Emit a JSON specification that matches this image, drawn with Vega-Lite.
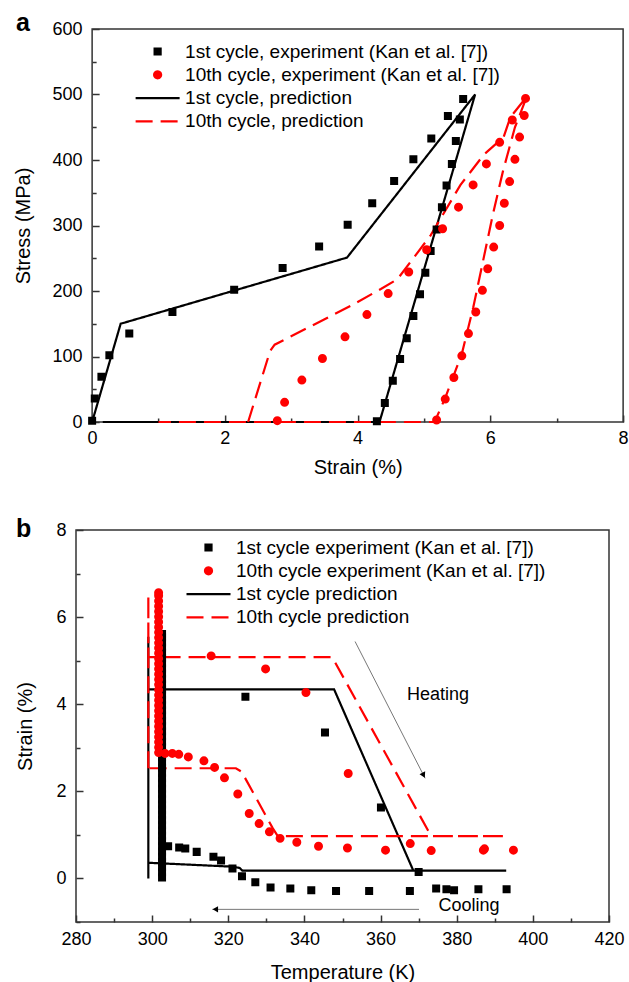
{
  "$schema": "https://vega.github.io/schema/vega-lite/v6.json",
  "padding": {"left": 12, "top": 10, "right": 0, "bottom": 0},
  "spacing": 38,
  "center": true,
  "resolve": {"scale": {"color": "independent", "shape": "independent", "strokeDash": "independent"}, "legend": {"color": "independent", "shape": "independent", "strokeDash": "independent"}},
  "config": {
    "font": "Liberation Sans",
    "view": {"stroke": "#333", "strokeWidth": 1.5},
    "axis": {"labelFont": "Liberation Sans", "titleFont": "Liberation Sans", "labelFontSize": 18, "titleFontSize": 20, "titleFontWeight": "normal", "labelColor": "#000", "titleColor": "#000", "domain": false, "tickColor": "#333", "tickWidth": 1.5, "grid": false, "labelFlush": false, "labelOverlap": false}
  },
  "datasets": {
    "a": [
      {"k":"e1","x":0.0,"y":2},{"k":"e1","x":0.04,"y":36},{"k":"e1","x":0.14,"y":69},{"k":"e1","x":0.26,"y":102},{"k":"e1","x":0.56,"y":135},{"k":"e1","x":1.21,"y":168},{"k":"e1","x":2.14,"y":202},{"k":"e1","x":2.87,"y":235},{"k":"e1","x":3.42,"y":268},{"k":"e1","x":3.85,"y":301},{"k":"e1","x":4.22,"y":334},{"k":"e1","x":4.55,"y":368},{"k":"e1","x":4.84,"y":401},{"k":"e1","x":5.11,"y":433},{"k":"e1","x":5.36,"y":467},{"k":"e1","x":5.59,"y":493},{"k":"e1","x":5.54,"y":462},{"k":"e1","x":5.48,"y":429},{"k":"e1","x":5.42,"y":394},{"k":"e1","x":5.34,"y":361},{"k":"e1","x":5.27,"y":328},{"k":"e1","x":5.19,"y":294},{"k":"e1","x":5.10,"y":261},{"k":"e1","x":5.02,"y":228},{"k":"e1","x":4.94,"y":195},{"k":"e1","x":4.84,"y":162},{"k":"e1","x":4.74,"y":128},{"k":"e1","x":4.64,"y":96},{"k":"e1","x":4.53,"y":63},{"k":"e1","x":4.41,"y":29},{"k":"e1","x":4.29,"y":1},
      {"k":"e10","x":2.79,"y":2},{"k":"e10","x":2.90,"y":30},{"k":"e10","x":3.16,"y":64},{"k":"e10","x":3.47,"y":97},{"k":"e10","x":3.81,"y":130},{"k":"e10","x":4.14,"y":164},{"k":"e10","x":4.46,"y":196},{"k":"e10","x":4.77,"y":229},{"k":"e10","x":5.04,"y":263},{"k":"e10","x":5.28,"y":295},{"k":"e10","x":5.52,"y":328},{"k":"e10","x":5.74,"y":362},{"k":"e10","x":5.94,"y":394},{"k":"e10","x":6.14,"y":427},{"k":"e10","x":6.33,"y":461},{"k":"e10","x":6.53,"y":494},{"k":"e10","x":6.51,"y":468},{"k":"e10","x":6.44,"y":435},{"k":"e10","x":6.37,"y":401},{"k":"e10","x":6.29,"y":367},{"k":"e10","x":6.21,"y":334},{"k":"e10","x":6.14,"y":300},{"k":"e10","x":6.05,"y":267},{"k":"e10","x":5.96,"y":234},{"k":"e10","x":5.88,"y":201},{"k":"e10","x":5.78,"y":168},{"k":"e10","x":5.67,"y":135},{"k":"e10","x":5.57,"y":101},{"k":"e10","x":5.45,"y":68},{"k":"e10","x":5.32,"y":35},{"k":"e10","x":5.19,"y":3},
      {"k":"p1","o":1,"x":0,"y":0},{"k":"p1","o":2,"x":0.43,"y":150},{"k":"p1","o":3,"x":3.84,"y":251},{"k":"p1","o":4,"x":5.77,"y":500},{"k":"p1","o":5,"x":4.33,"y":0},{"k":"p1","o":6,"x":0.16,"y":0},
      {"k":"p10","o":1,"x":2.35,"y":0},{"k":"p10","o":2,"x":2.68,"y":108},{"k":"p10","o":3,"x":2.75,"y":118},{"k":"p10","o":4,"x":3.89,"y":177},{"k":"p10","o":5,"x":4.35,"y":203},{"k":"p10","o":6,"x":4.6,"y":218},{"k":"p10","o":7,"x":5.1,"y":285},{"k":"p10","o":8,"x":5.55,"y":362},{"k":"p10","o":9,"x":5.9,"y":408},{"k":"p10","o":10,"x":6.2,"y":435},{"k":"p10","o":11,"x":6.3,"y":465},{"k":"p10","o":12,"x":6.55,"y":497},{"k":"p10","o":13,"x":6.37,"y":450},{"k":"p10","o":14,"x":6.19,"y":383},{"k":"p10","o":15,"x":6.04,"y":318},{"k":"p10","o":16,"x":5.89,"y":246},{"k":"p10","o":17,"x":5.74,"y":174},{"k":"p10","o":18,"x":5.57,"y":104},{"k":"p10","o":19,"x":5.32,"y":37},{"k":"p10","o":20,"x":5.16,"y":0},{"k":"p10","o":21,"x":1.0,"y":0}
    ],
    "b": [
      {"k":"e1","x":324.5,"y":4.17},{"k":"e1","x":345.4,"y":3.35},{"k":"e1","x":360.1,"y":1.63},{"k":"e1","x":370.0,"y":0.15},{"k":"e1","x":374.6,"y":-0.23},{"k":"e1","x":377.3,"y":-0.25},{"k":"e1","x":379.3,"y":-0.27},{"k":"e1","x":385.7,"y":-0.25},{"k":"e1","x":393.1,"y":-0.25},
      {"k":"e1","x":367.7,"y":-0.29},{"k":"e1","x":357.0,"y":-0.29},{"k":"e1","x":348.3,"y":-0.29},{"k":"e1","x":341.8,"y":-0.27},{"k":"e1","x":336.3,"y":-0.23},{"k":"e1","x":331.1,"y":-0.21},{"k":"e1","x":327.1,"y":-0.09},{"k":"e1","x":323.6,"y":0.05},{"k":"e1","x":321.1,"y":0.23},{"k":"e1","x":318.1,"y":0.41},{"k":"e1","x":316.1,"y":0.5},{"k":"e1","x":311.7,"y":0.61},{"k":"e1","x":308.7,"y":0.69},{"k":"e1","x":307.1,"y":0.71},{"k":"e1","x":304.2,"y":0.74},
      {"k":"e1","x":302.6,"y":0.02},{"k":"e1","x":302.6,"y":0.14},{"k":"e1","x":302.6,"y":0.26},{"k":"e1","x":302.6,"y":0.38},{"k":"e1","x":302.6,"y":0.5},{"k":"e1","x":302.6,"y":0.62},{"k":"e1","x":302.6,"y":0.74},{"k":"e1","x":302.6,"y":0.86},{"k":"e1","x":302.6,"y":0.98},{"k":"e1","x":302.6,"y":1.1},{"k":"e1","x":302.6,"y":1.22},{"k":"e1","x":302.6,"y":1.34},{"k":"e1","x":302.6,"y":1.46},{"k":"e1","x":302.6,"y":1.58},{"k":"e1","x":302.6,"y":1.7},{"k":"e1","x":302.6,"y":1.82},{"k":"e1","x":302.6,"y":1.94},{"k":"e1","x":302.6,"y":2.06},{"k":"e1","x":302.6,"y":2.18},{"k":"e1","x":302.6,"y":2.3},{"k":"e1","x":302.6,"y":2.42},{"k":"e1","x":302.6,"y":2.54},{"k":"e1","x":302.6,"y":2.66},{"k":"e1","x":302.6,"y":2.78},{"k":"e1","x":302.6,"y":2.9},{"k":"e1","x":302.6,"y":3.02},{"k":"e1","x":302.6,"y":3.14},{"k":"e1","x":302.6,"y":3.26},{"k":"e1","x":302.6,"y":3.38},{"k":"e1","x":302.6,"y":3.5},{"k":"e1","x":302.6,"y":3.62},{"k":"e1","x":302.6,"y":3.74},{"k":"e1","x":302.6,"y":3.86},{"k":"e1","x":302.6,"y":3.98},{"k":"e1","x":302.6,"y":4.1},{"k":"e1","x":302.6,"y":4.22},{"k":"e1","x":302.6,"y":4.34},{"k":"e1","x":302.6,"y":4.46},{"k":"e1","x":302.6,"y":4.58},{"k":"e1","x":302.6,"y":4.7},{"k":"e1","x":302.6,"y":4.82},{"k":"e1","x":302.6,"y":4.94},{"k":"e1","x":302.6,"y":5.06},{"k":"e1","x":302.6,"y":5.18},{"k":"e1","x":302.6,"y":5.3},{"k":"e1","x":302.6,"y":5.42},{"k":"e1","x":302.6,"y":5.54},{"k":"e1","x":302.6,"y":5.61},
      {"k":"e10","x":315.5,"y":5.11},{"k":"e10","x":329.8,"y":4.81},{"k":"e10","x":340.4,"y":4.27},{"k":"e10","x":351.5,"y":2.41},{"k":"e10","x":367.8,"y":0.80},{"k":"e10","x":373.3,"y":0.64},{"k":"e10","x":387.0,"y":0.65},{"k":"e10","x":387.3,"y":0.68},{"k":"e10","x":394.9,"y":0.65},
      {"k":"e10","x":361.3,"y":0.65},{"k":"e10","x":351.3,"y":0.70},{"k":"e10","x":343.7,"y":0.74},{"k":"e10","x":338.0,"y":0.83},{"k":"e10","x":333.6,"y":0.92},{"k":"e10","x":330.8,"y":1.07},{"k":"e10","x":328.1,"y":1.26},{"k":"e10","x":325.5,"y":1.49},{"k":"e10","x":322.5,"y":1.94},{"k":"e10","x":319.0,"y":2.31},{"k":"e10","x":316.4,"y":2.55},{"k":"e10","x":313.6,"y":2.70},{"k":"e10","x":309.5,"y":2.79},{"k":"e10","x":307.0,"y":2.85},{"k":"e10","x":305.3,"y":2.87},{"k":"e10","x":303.4,"y":2.87},
      {"k":"e10","x":301.7,"y":2.89},{"k":"e10","x":301.7,"y":3.01},{"k":"e10","x":301.7,"y":3.13},{"k":"e10","x":301.7,"y":3.25},{"k":"e10","x":301.7,"y":3.37},{"k":"e10","x":301.7,"y":3.49},{"k":"e10","x":301.7,"y":3.61},{"k":"e10","x":301.7,"y":3.73},{"k":"e10","x":301.7,"y":3.85},{"k":"e10","x":301.7,"y":3.97},{"k":"e10","x":301.7,"y":4.09},{"k":"e10","x":301.7,"y":4.21},{"k":"e10","x":301.7,"y":4.33},{"k":"e10","x":301.7,"y":4.45},{"k":"e10","x":301.7,"y":4.57},{"k":"e10","x":301.7,"y":4.69},{"k":"e10","x":301.7,"y":4.81},{"k":"e10","x":301.7,"y":4.93},{"k":"e10","x":301.7,"y":5.05},{"k":"e10","x":301.7,"y":5.17},{"k":"e10","x":301.7,"y":5.29},{"k":"e10","x":301.7,"y":5.41},{"k":"e10","x":301.7,"y":5.53},{"k":"e10","x":301.7,"y":5.65},{"k":"e10","x":301.7,"y":5.77},{"k":"e10","x":301.7,"y":5.89},{"k":"e10","x":301.7,"y":6.01},{"k":"e10","x":301.7,"y":6.13},{"k":"e10","x":301.7,"y":6.25},{"k":"e10","x":301.7,"y":6.37},{"k":"e10","x":301.7,"y":6.49},{"k":"e10","x":301.7,"y":6.56},
      {"k":"p1","o":1,"x":299,"y":0},{"k":"p1","o":2,"x":299,"y":5.55},{"k":"p1","o":3,"x":299,"y":4.34},{"k":"p1","o":4,"x":347.8,"y":4.34},{"k":"p1","o":5,"x":368.6,"y":0.18},{"k":"p1","o":6,"x":393.0,"y":0.18},{"k":"p1","o":7,"x":323.7,"y":0.18},{"k":"p1","o":8,"x":323.0,"y":0.24},{"k":"p1","o":9,"x":321.2,"y":0.27},{"k":"p1","o":10,"x":299,"y":0.36},
      {"k":"p10","o":1,"x":299,"y":2.53},{"k":"p10","o":2,"x":299,"y":6.5},{"k":"p10","o":3,"x":299,"y":5.08},{"k":"p10","o":4,"x":347.3,"y":5.08},{"k":"p10","o":5,"x":373.3,"y":0.97},{"k":"p10","o":6,"x":392.8,"y":0.97},{"k":"p10","o":7,"x":333.0,"y":0.97},{"k":"p10","o":8,"x":331.7,"y":1.15},{"k":"p10","o":9,"x":323.5,"y":2.45},{"k":"p10","o":10,"x":322.0,"y":2.53},{"k":"p10","o":11,"x":299,"y":2.53}
    ]
  },
  "vconcat": [
    {
      "width": 531,
      "height": 393,
      "title": {"text": "a", "anchor": "start", "frame": "bounds", "fontSize": 25, "fontWeight": "bold", "font": "Liberation Sans", "baseline": "alphabetic", "offset": -36, "color": "#000", "dx": 3},
      "data": {"name": "a"},
      "layer": [
        {
          "transform": [{"filter": "datum.k == 'p1'"}],
          "mark": {"type": "line", "strokeWidth": 2.2},
          "encoding": {
            "x": {"field": "x", "type": "quantitative", "scale": {"domain": [0, 8], "nice": false, "zero": false}, "axis": {"values": [0, 2, 4, 6, 8], "offset": -7, "tickSize": 7, "labelPadding": 7, "title": "Strain (%)", "titlePadding": 10, "orient": "bottom"}},
            "y": {"field": "y", "type": "quantitative", "scale": {"domain": [0, 600], "nice": false}, "axis": {"values": [0, 100, 200, 300, 400, 500, 600], "offset": -7, "tickSize": 7, "labelPadding": 10, "title": "Stress (MPa)", "titlePadding": 19, "orient": "left"}},
            "order": {"field": "o"},
            "color": {"field": "k", "type": "nominal", "scale": {"domain": ["e1", "e10", "p1", "p10"], "range": ["#000000", "#ff0000", "#000000", "#ff0000"]}, "legend": {"title": null, "orient": "none", "legendX": 53, "legendY": 10, "labelExpr": "{'e1':'1st cycle, experiment (Kan et al. [7])','e10':'10th cycle, experiment (Kan et al. [7])','p1':'1st cycle, prediction','p10':'10th cycle, prediction'}[datum.value]", "labelFontSize": 19, "labelFont": "Liberation Sans", "labelColor": "#000", "symbolSize": 484, "symbolStrokeWidth": 2.2, "symbolOpacity": 1, "labelOffset": 15, "rowPadding": 0.3, "padding": 0, "labelLimit": 500}},
            "strokeDash": {"field": "k", "type": "nominal", "scale": {"domain": ["e1", "e10", "p1", "p10"], "range": [[1, 0], [1, 0], [1, 0], [17, 8]]}, "legend": {"title": null, "orient": "none", "legendX": 53, "legendY": 10, "labelExpr": "{'e1':'1st cycle, experiment (Kan et al. [7])','e10':'10th cycle, experiment (Kan et al. [7])','p1':'1st cycle, prediction','p10':'10th cycle, prediction'}[datum.value]", "labelFontSize": 19, "labelFont": "Liberation Sans", "labelColor": "#000", "symbolSize": 484, "symbolStrokeWidth": 2.2, "symbolOpacity": 1, "labelOffset": 15, "rowPadding": 0.3, "padding": 0, "labelLimit": 500}}
          }
        },
        {
          "transform": [{"filter": "datum.k == 'p10'"}],
          "mark": {"type": "line", "strokeWidth": 2.2},
          "encoding": {
            "x": {"field": "x", "type": "quantitative", "scale": {"domain": [0, 8], "nice": false, "zero": false}, "axis": {"values": [1, 3, 5, 7], "offset": -4, "tickSize": 4, "labels": false, "title": null, "orient": "bottom"}},
            "y": {"field": "y", "type": "quantitative", "scale": {"domain": [0, 600], "nice": false}, "axis": {"values": [50, 150, 250, 350, 450, 550], "offset": -4, "tickSize": 4, "labels": false, "title": null, "orient": "left"}},
            "order": {"field": "o"},
            "color": {"field": "k", "type": "nominal", "scale": {"domain": ["e1", "e10", "p1", "p10"], "range": ["#000000", "#ff0000", "#000000", "#ff0000"]}},
            "strokeDash": {"field": "k", "type": "nominal", "scale": {"domain": ["e1", "e10", "p1", "p10"], "range": [[1, 0], [1, 0], [1, 0], [17, 8]]}}
          }
        },
        {
          "transform": [{"filter": "datum.k == 'e1'"}],
          "mark": {"type": "point", "filled": true, "size": 484, "opacity": 1, "stroke": "#000000", "strokeWidth": 2},
          "encoding": {
            "x": {"field": "x", "type": "quantitative", "scale": {"domain": [0, 8], "nice": false, "zero": false}, "axis": null},
            "y": {"field": "y", "type": "quantitative", "scale": {"domain": [0, 600], "nice": false}, "axis": null},
            "color": {"field": "k", "type": "nominal", "scale": {"domain": ["e1", "e10", "p1", "p10"], "range": ["#000000", "#ff0000", "#000000", "#ff0000"]}},
            "shape": {"field": "k", "type": "nominal", "scale": {"domain": ["e1", "e10", "p1", "p10"], "range": ["M-0.273,-0.273H0.273V0.273H-0.273Z", "M0.318,0A0.318,0.318,0,1,1,-0.318,0A0.318,0.318,0,1,1,0.318,0Z", "M-2,0H2", "M-2,0H2"]}, "legend": {"title": null, "orient": "none", "legendX": 53, "legendY": 10, "labelExpr": "{'e1':'1st cycle, experiment (Kan et al. [7])','e10':'10th cycle, experiment (Kan et al. [7])','p1':'1st cycle, prediction','p10':'10th cycle, prediction'}[datum.value]", "labelFontSize": 19, "labelFont": "Liberation Sans", "labelColor": "#000", "symbolSize": 484, "symbolStrokeWidth": 2.2, "symbolOpacity": 1, "labelOffset": 15, "rowPadding": 0.3, "padding": 0, "labelLimit": 500}}
          }
        },
        {
          "transform": [{"filter": "datum.k == 'e10'"}],
          "mark": {"type": "point", "filled": true, "size": 484, "opacity": 1, "stroke": "#ff0000", "strokeWidth": 2},
          "encoding": {
            "x": {"field": "x", "type": "quantitative", "scale": {"domain": [0, 8], "nice": false, "zero": false}, "axis": null},
            "y": {"field": "y", "type": "quantitative", "scale": {"domain": [0, 600], "nice": false}, "axis": null},
            "color": {"field": "k", "type": "nominal", "scale": {"domain": ["e1", "e10", "p1", "p10"], "range": ["#000000", "#ff0000", "#000000", "#ff0000"]}},
            "shape": {"field": "k", "type": "nominal", "scale": {"domain": ["e1", "e10", "p1", "p10"], "range": ["M-0.273,-0.273H0.273V0.273H-0.273Z", "M0.318,0A0.318,0.318,0,1,1,-0.318,0A0.318,0.318,0,1,1,0.318,0Z", "M-2,0H2", "M-2,0H2"]}}
          }
        }
      ],
      "resolve": {"axis": {"x": "independent", "y": "independent"}}
    },
    {
      "spacing": 0,
      "resolve": {"legend": {"color": "independent", "shape": "independent", "strokeDash": "independent"}},
      "hconcat": [
        {
          "width": 533,
          "height": 392,
          "title": {"text": "b", "anchor": "start", "frame": "bounds", "fontSize": 25, "fontWeight": "bold", "font": "Liberation Sans", "baseline": "alphabetic", "offset": -41, "color": "#000", "dx": 0},
          "data": {"name": "b"},
          "layer": [
            {
              "transform": [{"filter": "datum.k == 'p1'"}],
              "mark": {"type": "line", "strokeWidth": 2.2},
              "encoding": {
                "x": {"field": "x", "type": "quantitative", "scale": {"domain": [280, 420], "nice": false, "zero": false}, "axis": {"values": [280, 300, 320, 340, 360, 380, 400, 420], "offset": -7, "tickSize": 7, "labelPadding": 8, "title": "Temperature (K)", "titlePadding": 14, "orient": "bottom"}},
                "y": {"field": "y", "type": "quantitative", "scale": {"domain": [-1, 8], "nice": false, "zero": false}, "axis": {"values": [0, 2, 4, 6, 8], "offset": -7, "tickSize": 7, "labelPadding": 10, "title": "Strain (%)", "titlePadding": 20, "orient": "left"}},
                "order": {"field": "o"},
                "color": {"field": "k", "type": "nominal", "scale": {"domain": ["e1", "e10", "p1", "p10"], "range": ["#000000", "#ff0000", "#000000", "#ff0000"]}, "legend": {"title": null, "orient": "none", "legendX": 120, "legendY": 5, "labelExpr": "{'e1':'1st cycle experiment (Kan et al. [7])','e10':'10th cycle experiment (Kan et al. [7])','p1':'1st cycle prediction','p10':'10th cycle prediction'}[datum.value]", "labelFontSize": 19, "labelFont": "Liberation Sans", "labelColor": "#000", "symbolSize": 484, "symbolStrokeWidth": 2.2, "symbolOpacity": 1, "labelOffset": 15, "rowPadding": 0.3, "padding": 0, "labelLimit": 500}},
                "strokeDash": {"field": "k", "type": "nominal", "scale": {"domain": ["e1", "e10", "p1", "p10"], "range": [[1, 0], [1, 0], [1, 0], [17, 8]]}, "legend": {"title": null, "orient": "none", "legendX": 120, "legendY": 5, "labelExpr": "{'e1':'1st cycle experiment (Kan et al. [7])','e10':'10th cycle experiment (Kan et al. [7])','p1':'1st cycle prediction','p10':'10th cycle prediction'}[datum.value]", "labelFontSize": 19, "labelFont": "Liberation Sans", "labelColor": "#000", "symbolSize": 484, "symbolStrokeWidth": 2.2, "symbolOpacity": 1, "labelOffset": 15, "rowPadding": 0.3, "padding": 0, "labelLimit": 500}}
              }
            },
            {
              "transform": [{"filter": "datum.k == 'p10'"}],
              "mark": {"type": "line", "strokeWidth": 2.2},
              "encoding": {
                "x": {"field": "x", "type": "quantitative", "scale": {"domain": [280, 420], "nice": false, "zero": false}, "axis": {"values": [290, 310, 330, 350, 370, 390, 410], "offset": -4, "tickSize": 4, "labels": false, "title": null, "orient": "bottom"}},
                "y": {"field": "y", "type": "quantitative", "scale": {"domain": [-1, 8], "nice": false, "zero": false}, "axis": {"values": [-1, 1, 3, 5, 7], "offset": -4, "tickSize": 4, "labels": false, "title": null, "orient": "left"}},
                "order": {"field": "o"},
                "color": {"field": "k", "type": "nominal", "scale": {"domain": ["e1", "e10", "p1", "p10"], "range": ["#000000", "#ff0000", "#000000", "#ff0000"]}},
                "strokeDash": {"field": "k", "type": "nominal", "scale": {"domain": ["e1", "e10", "p1", "p10"], "range": [[1, 0], [1, 0], [1, 0], [17, 8]]}}
              }
            },
            {
              "transform": [{"filter": "datum.k == 'e1'"}],
              "mark": {"type": "point", "filled": true, "size": 484, "opacity": 1, "stroke": "#000000", "strokeWidth": 2},
              "encoding": {
                "x": {"field": "x", "type": "quantitative", "scale": {"domain": [280, 420], "nice": false, "zero": false}, "axis": null},
                "y": {"field": "y", "type": "quantitative", "scale": {"domain": [-1, 8], "nice": false, "zero": false}, "axis": null},
                "color": {"field": "k", "type": "nominal", "scale": {"domain": ["e1", "e10", "p1", "p10"], "range": ["#000000", "#ff0000", "#000000", "#ff0000"]}},
                "shape": {"field": "k", "type": "nominal", "scale": {"domain": ["e1", "e10", "p1", "p10"], "range": ["M-0.273,-0.273H0.273V0.273H-0.273Z", "M0.318,0A0.318,0.318,0,1,1,-0.318,0A0.318,0.318,0,1,1,0.318,0Z", "M-2,0H2", "M-2,0H2"]}, "legend": {"title": null, "orient": "none", "legendX": 120, "legendY": 5, "labelExpr": "{'e1':'1st cycle experiment (Kan et al. [7])','e10':'10th cycle experiment (Kan et al. [7])','p1':'1st cycle prediction','p10':'10th cycle prediction'}[datum.value]", "labelFontSize": 19, "labelFont": "Liberation Sans", "labelColor": "#000", "symbolSize": 484, "symbolStrokeWidth": 2.2, "symbolOpacity": 1, "labelOffset": 15, "rowPadding": 0.3, "padding": 0, "labelLimit": 500}}
              }
            },
            {
              "transform": [{"filter": "datum.k == 'e10'"}],
              "mark": {"type": "point", "filled": true, "size": 484, "opacity": 1, "stroke": "#ff0000", "strokeWidth": 2},
              "encoding": {
                "x": {"field": "x", "type": "quantitative", "scale": {"domain": [280, 420], "nice": false, "zero": false}, "axis": null},
                "y": {"field": "y", "type": "quantitative", "scale": {"domain": [-1, 8], "nice": false, "zero": false}, "axis": null},
                "color": {"field": "k", "type": "nominal", "scale": {"domain": ["e1", "e10", "p1", "p10"], "range": ["#000000", "#ff0000", "#000000", "#ff0000"]}},
                "shape": {"field": "k", "type": "nominal", "scale": {"domain": ["e1", "e10", "p1", "p10"], "range": ["M-0.273,-0.273H0.273V0.273H-0.273Z", "M0.318,0A0.318,0.318,0,1,1,-0.318,0A0.318,0.318,0,1,1,0.318,0Z", "M-2,0H2", "M-2,0H2"]}}
              }
            },
            {
              "data": {"values": [{"x": 353.3, "y": 5.44, "x2": 371.7, "y2": 2.30}, {"x": 370.1, "y": -0.71, "x2": 315.8, "y2": -0.71}]},
              "mark": {"type": "rule", "color": "#777777", "strokeWidth": 1},
              "encoding": {
                "x": {"field": "x", "type": "quantitative", "scale": {"domain": [280, 420], "nice": false, "zero": false}, "axis": null},
                "y": {"field": "y", "type": "quantitative", "scale": {"domain": [-1, 8], "nice": false, "zero": false}, "axis": null},
                "x2": {"field": "x2"},
                "y2": {"field": "y2"}
              }
            },
            {
              "data": {"values": [{"x": 371.3, "y": 2.37}]},
              "mark": {"type": "point", "shape": "triangle-down", "angle": 333, "filled": true, "color": "#000000", "opacity": 1, "size": 40},
              "encoding": {
                "x": {"field": "x", "type": "quantitative", "scale": {"domain": [280, 420], "nice": false, "zero": false}, "axis": null},
                "y": {"field": "y", "type": "quantitative", "scale": {"domain": [-1, 8], "nice": false, "zero": false}, "axis": null}
              }
            },
            {
              "data": {"values": [{"x": 316.6, "y": -0.71}]},
              "mark": {"type": "point", "shape": "triangle-left", "filled": true, "color": "#000000", "opacity": 1, "size": 40},
              "encoding": {
                "x": {"field": "x", "type": "quantitative", "scale": {"domain": [280, 420], "nice": false, "zero": false}, "axis": null},
                "y": {"field": "y", "type": "quantitative", "scale": {"domain": [-1, 8], "nice": false, "zero": false}, "axis": null}
              }
            },
            {
              "data": {"values": [{"x": 375.1, "y": 4.21, "t": "Heating"}, {"x": 383.2, "y": -0.64, "t": "Cooling"}]},
              "mark": {"type": "text", "fontSize": 18, "font": "Liberation Sans", "color": "#000000", "align": "center", "baseline": "middle"},
              "encoding": {
                "x": {"field": "x", "type": "quantitative", "scale": {"domain": [280, 420], "nice": false, "zero": false}, "axis": null},
                "y": {"field": "y", "type": "quantitative", "scale": {"domain": [-1, 8], "nice": false, "zero": false}, "axis": null},
                "text": {"field": "t"}
              }
            }
          ],
          "resolve": {"axis": {"x": "independent", "y": "independent"}}
        },
        {
          "width": 20,
          "height": 1,
          "view": {"stroke": null},
          "data": {"values": []},
          "mark": {"type": "point", "opacity": 0},
          "encoding": {}
        }
      ]
    }
  ]
}
